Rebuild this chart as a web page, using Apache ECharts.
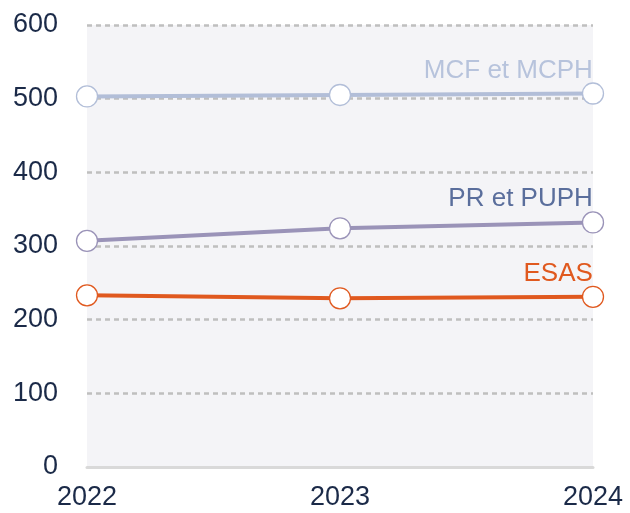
<!DOCTYPE html>
<html>
<head>
<meta charset="utf-8">
<script src="https://cdn.jsdelivr.net/npm/echarts@6/dist/echarts.min.js"></script>
<style>
  html, body { margin: 0; padding: 0; background: #fff; }
  #chart { width: 630px; height: 513px; }
</style>
</head>
<body>
<div id="chart"></div>
<script>
  const years = ['2022', '2023', '2024']
  const mcf = [503, 505, 507]
  const pr = [307, 324, 332]
  const esas = [233, 229, 231]
  const seriesNames = ['MCF et MCPH', 'PR et PUPH', 'ESAS']

  const font = '"Liberation Sans", Arial, sans-serif'
  const navy = '#1b2a48'

  // label only on the last point, right-aligned above it
  function withEndLabel(values, name, color) {
    return values.map((v, i) => {
      if (i !== values.length - 1) return v
      return {
        value: v,
        label: {
          show: true,
          formatter: name,
          position: [11, 1],
          align: 'right',
          verticalAlign: 'bottom',
          color: color,
          fontSize: 26,
          fontFamily: font,
        },
      }
    })
  }

  function line(name, values, lineColor, textColor) {
    return {
      name,
      type: 'line',
      data: withEndLabel(values, name, textColor),
      symbol: 'circle',
      symbolSize: 21,
      lineStyle: { color: lineColor, width: 4 },
      itemStyle: { color: '#fff', borderColor: lineColor, borderWidth: 1.3 },
      z: 3,
    }
  }

  const chart = echarts.init(document.getElementById('chart'))
  chart.setOption({
    animation: false,
    grid: {
      left: 87, right: 37, top: 25, bottom: 46,
      show: true, backgroundColor: '#f4f4f7', borderWidth: 0,
    },
    xAxis: {
      type: 'category',
      data: years,
      boundaryGap: false,
      axisTick: { show: false },
      axisLine: { show: true, lineStyle: { color: '#d9d9d9', width: 3 } },
      axisLabel: { color: navy, fontSize: 27, fontFamily: font, margin: 17 },
      splitLine: { show: false },
    },
    yAxis: {
      type: 'value',
      min: 0,
      max: 600,
      interval: 100,
      axisTick: { show: false },
      axisLine: { show: false },
      axisLabel: { color: navy, fontSize: 27, fontFamily: font, margin: 29 },
      splitLine: {
        show: true,
        lineStyle: { color: '#bfbfbf', width: 2.5, type: [5, 4] },
      },
    },
    series: [
      line(seriesNames[0], mcf, '#b2bed8', '#b7c3dc'),
      line(seriesNames[1], pr, '#9a93b8', '#5a6e9c'),
      line(seriesNames[2], esas, '#e0591f', '#e0591f'),
    ],
  })
</script>
</body>
</html>
